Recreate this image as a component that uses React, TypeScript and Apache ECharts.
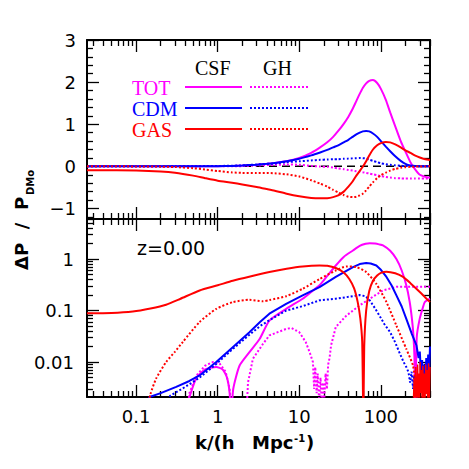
import React, { useEffect, useRef } from "react";
import * as echarts from "echarts";

// ---------- data ----------
// Top panel: Delta P / P_DMo (linear), shared k grid
const kTop = [0.025, 0.05, 0.1, 0.2, 0.3, 0.5, 0.7, 1, 1.5, 2, 3, 4, 5, 7, 10, 14, 18, 22, 26, 30, 35, 40, 45, 50, 55, 60, 66, 72, 80, 90, 100, 115, 130, 150, 175, 200, 230, 260, 300, 350, 400];
const totCsfTop = [0, 0, 0, 0, 0, 0, 0.002, 0.005, 0.01, 0.02, 0.04, 0.06, 0.08, 0.12, 0.2, 0.32, 0.45, 0.57, 0.7, 0.84, 1.01, 1.18, 1.36, 1.55, 1.72, 1.86, 1.97, 2.03, 2.05, 1.98, 1.84, 1.58, 1.28, 0.95, 0.6, 0.35, 0.1, -0.06, -0.2, -0.25, -0.27];
const cdmCsfTop = [0, 0, 0, 0, 0, 0, 0.002, 0.005, 0.01, 0.02, 0.04, 0.06, 0.08, 0.12, 0.18, 0.26, 0.33, 0.39, 0.45, 0.5, 0.57, 0.63, 0.7, 0.76, 0.8, 0.83, 0.84, 0.83, 0.78, 0.7, 0.6, 0.47, 0.36, 0.24, 0.13, 0.06, 0.02, 0.01, 0, 0, 0];
const gasCsfTop = [-0.09, -0.093, -0.097, -0.12, -0.15, -0.22, -0.28, -0.34, -0.39, -0.43, -0.49, -0.54, -0.58, -0.65, -0.71, -0.75, -0.76, -0.755, -0.73, -0.69, -0.6, -0.48, -0.36, -0.22, -0.11, -0.01, 0.12, 0.26, 0.4, 0.5, 0.55, 0.58, 0.57, 0.52, 0.45, 0.38, 0.32, 0.26, 0.21, 0.17, 0.15];
const totGhTop = [0, 0, 0, 0, 0, 0.003, 0.006, 0.008, 0.0, 0.005, 0.02, 0.03, 0.035, 0.045, 0.038, 0.012, -0.005, -0.012, -0.03, -0.05, -0.068, -0.085, -0.1, -0.115, -0.126, -0.14, -0.155, -0.17, -0.19, -0.21, -0.23, -0.25, -0.265, -0.28, -0.285, -0.29, -0.29, -0.29, -0.29, -0.29, -0.29];
const cdmGhTop = [0, 0, 0, 0.001, 0.002, 0.004, 0.006, 0.009, 0.015, 0.022, 0.045, 0.058, 0.07, 0.1, 0.12, 0.14, 0.155, 0.162, 0.168, 0.17, 0.18, 0.185, 0.19, 0.195, 0.2, 0.195, 0.185, 0.16, 0.13, 0.1, 0.075, 0.05, 0.038, 0.024, 0.013, 0.008, 0.004, 0.002, 0, 0, 0];
const gasGhTop = [0, 0, -0.001, -0.007, -0.016, -0.045, -0.075, -0.11, -0.145, -0.155, -0.16, -0.157, -0.165, -0.19, -0.24, -0.33, -0.41, -0.48, -0.56, -0.62, -0.68, -0.72, -0.73, -0.72, -0.69, -0.65, -0.57, -0.48, -0.38, -0.28, -0.21, -0.15, -0.1, -0.06, -0.033, -0.019, -0.011, -0.007, -0.003, -0.001, 0];

// Bottom panel: |Delta P / P_DMo| (log)
const totCsfBotK = [0.4, 0.45, 0.55, 0.7, 0.96, 1.15, 1.3, 1.4, 1.46, 1.55, 1.85, 2.45, 3.26, 4.3, 6.9, 11, 14, 17.7, 22, 28, 35, 45.5, 55, 65, 73, 85, 95, 106, 130, 155, 180, 205, 225, 240, 250, 258, 264, 275, 299, 330, 345, 400];
const totCsfBotV = [0.0012, 0.0021, 0.005, 0.0072, 0.008, 0.0072, 0.005, 0.0025, 0.0008, 0.003, 0.0085, 0.0156, 0.028, 0.064, 0.108, 0.17, 0.23, 0.31, 0.47, 0.75, 1.1, 1.47, 1.8, 1.98, 2.04, 2.0, 1.93, 1.84, 1.45, 1.0, 0.6, 0.31, 0.15, 0.07, 0.035, 0.012, 0.0008, 0.03, 0.069, 0.12, 0.146, 0.17];
const cdmCsfBotK = [0.13, 0.146, 0.2, 0.31, 0.45, 0.6, 0.96, 1.53, 2.45, 3.3, 4.3, 6.9, 11, 17.7, 28, 45.5, 55, 66, 75, 88, 100, 117, 135, 155, 180, 205, 240, 273, 290, 300, 310, 320, 330, 340, 350, 360, 370, 380, 390, 400];
const cdmCsfBotV = [0.0015, 0.0021, 0.0025, 0.0033, 0.0043, 0.0055, 0.01, 0.0195, 0.038, 0.06, 0.087, 0.135, 0.197, 0.286, 0.45, 0.7, 0.8, 0.84, 0.82, 0.75, 0.62, 0.45, 0.31, 0.197, 0.12, 0.069, 0.035, 0.021, 0.012, 0.016, 0.006, 0.011, 0.0035, 0.009, 0.0028, 0.012, 0.005, 0.014, 0.006, 0.02];
const gasCsfBotK = [0.025, 0.05, 0.091, 0.15, 0.233, 0.35, 0.6, 1, 1.53, 2.5, 4.3, 7, 11, 17.7, 22, 28, 35, 41, 47, 52, 56, 59, 61, 62.5, 66, 72, 80, 90, 100, 117, 150, 187, 230, 300, 350, 400];
const gasCsfBotV = [0.089, 0.09, 0.096, 0.11, 0.13, 0.17, 0.246, 0.31, 0.38, 0.46, 0.56, 0.65, 0.72, 0.75, 0.74, 0.67, 0.55, 0.41, 0.27, 0.146, 0.07, 0.025, 0.0008, 0.02, 0.1, 0.24, 0.38, 0.48, 0.54, 0.57, 0.53, 0.45, 0.34, 0.23, 0.18, 0.146];
const gasNoiseK = [250, 256, 262, 267, 272, 277, 282, 287, 292, 297, 303, 309, 315, 321, 327, 333, 340, 347, 354, 361, 368, 376, 384, 392, 400];
const gasNoiseV = [0.0015, 0.005, 0.0018, 0.008, 0.0022, 0.0012, 0.009, 0.002, 0.006, 0.0014, 0.01, 0.0025, 0.007, 0.0013, 0.0085, 0.002, 0.006, 0.0015, 0.009, 0.0024, 0.007, 0.0014, 0.0095, 0.0018, 0.008];
const totGhBotK = [0.42, 0.45, 0.55, 0.7, 0.87, 1.05, 1.25, 1.4, 1.53, 2.24, 2.35, 2.7, 3.6, 4.3, 6.9, 8, 10, 12, 13.5, 14.7, 15.2, 15.7, 16.3, 16.8, 17.5, 18.2, 18.9, 19.5, 20.2, 21, 21.8, 22.6, 23.5, 24.5, 28, 37.8, 55, 73, 106, 155, 250, 400];
const totGhBotV = [0.0012, 0.0025, 0.0055, 0.0085, 0.01, 0.0095, 0.0065, 0.003, 0.0008, 0.0008, 0.004, 0.0116, 0.0227, 0.033, 0.044, 0.046, 0.038, 0.0245, 0.015, 0.01, 0.003, 0.008, 0.0025, 0.006, 0.0018, 0.005, 0.0015, 0.004, 0.0018, 0.006, 0.003, 0.009, 0.012, 0.021, 0.048, 0.08, 0.126, 0.17, 0.246, 0.29, 0.29, 0.29];
const cdmGhBotK = [0.24, 0.26, 0.31, 0.45, 0.6, 0.96, 1.53, 2.45, 3.3, 4.3, 6.9, 11, 17.7, 28, 45.5, 55, 65, 73, 85, 96, 110, 130, 150, 168, 190, 205, 218, 228, 238, 248, 256, 264, 272, 280];
const cdmGhBotV = [0.0015, 0.0022, 0.0026, 0.0037, 0.005, 0.0092, 0.018, 0.034, 0.05, 0.065, 0.1, 0.122, 0.158, 0.17, 0.19, 0.2, 0.19, 0.158, 0.11, 0.08, 0.055, 0.038, 0.024, 0.0156, 0.01, 0.008, 0.0064, 0.004, 0.0065, 0.003, 0.0055, 0.0022, 0.004, 0.0012];
const gasGhBotK = [0.135, 0.15, 0.176, 0.233, 0.3, 0.373, 0.6, 0.96, 1.53, 2.45, 3.6, 4.3, 6.9, 11, 17.7, 28, 37.8, 50, 66, 88, 117, 155, 205, 248, 262, 272];
const gasGhBotV = [0.0012, 0.0024, 0.0048, 0.01, 0.016, 0.0245, 0.06, 0.108, 0.146, 0.162, 0.152, 0.16, 0.19, 0.265, 0.41, 0.6, 0.72, 0.7, 0.56, 0.33, 0.146, 0.051, 0.018, 0.0085, 0.004, 0.0015];

// tick labels
const xTickValues = [0.1, 1, 10, 100];
const xTickLabels = ["0.1", "1", "10", "100"];
const yTopTickValues = [-1, 0, 1, 2, 3];
const yTopTickLabels = ["\u22121", "0", "1", "2", "3"];
const yBotTickValues = [0.01, 0.1, 1];
const yBotTickLabels = ["0.01", "0.1", "1"];

// axis ranges
const K_MIN = 0.025, K_MAX = 400;
const TOP_MIN = -1.25, TOP_MAX = 3;
const BOT_MIN = 0.0021, BOT_MAX = 6.0;

const MAGENTA = "#ff00ff", BLUE = "#0000ff", RED = "#ff0000";

const lg = Math.log10;
const XMIN = lg(K_MIN), XMAX = lg(K_MAX);
const YBMIN = lg(BOT_MIN), YBMAX = lg(BOT_MAX);

function logTicks(lo: number, hi: number, major: boolean): number[] {
  const out: number[] = [];
  for (let d = Math.floor(lg(lo)) - 1; d <= Math.ceil(lg(hi)); d++) {
    for (let m = 1; m <= 9; m++) {
      if (major !== (m === 1)) continue;
      const v = m * Math.pow(10, d);
      if (v >= lo * 0.9999 && v <= hi * 1.0001) out.push(lg(v));
    }
  }
  return out;
}
function linTicks(major: boolean): number[] {
  const out: number[] = [];
  for (let i = -6; i <= 15; i++) {
    const v = i / 5;
    if (v < TOP_MIN || v > TOP_MAX) continue;
    if (major === (i % 5 === 0)) out.push(v);
  }
  return out;
}

const FONT = "DejaVu Sans";
const SERIF = "Liberation Serif";

function axis(grid: number, pos: string, min: number, max: number, ticks: number[], len: number, line: boolean, labels?: { values: number[]; texts: string[]; margin: number }) {
  return {
    type: "value",
    gridIndex: grid,
    position: pos,
    min,
    max,
    silent: true,
    axisLine: { show: line, onZero: false, lineStyle: { color: "#000", width: 2 } },
    axisTick: { show: true, inside: true, length: len, customValues: ticks, lineStyle: { color: "#000", width: 1.3 } },
    axisLabel: labels
      ? {
          show: true,
          customValues: labels.values,
          margin: labels.margin,
          color: "#000",
          fontFamily: FONT,
          fontSize: 18,
          formatter: (v: number) => {
            const i = labels.values.findIndex((u) => Math.abs(u - v) < 1e-6);
            return i >= 0 ? labels.texts[i] : "";
          },
        }
      : { show: false },
    splitLine: { show: false },
  };
}

function line(ks: number[], vs: number[], grid: number, color: string, dotted: boolean, logY: boolean, smooth: number | boolean = 0.2, width = 2) {
  return {
    type: "line",
    xAxisIndex: grid * 4,
    yAxisIndex: grid * 4,
    data: ks.map((k, i) => [lg(k), logY ? lg(vs[i]) : vs[i]]),
    showSymbol: false,
    symbol: "none",
    smooth,
    clip: true,
    silent: true,
    z: 3,
    lineStyle: { color, width, type: dotted ? [2, 2] : "solid", cap: "butt" },
  };
}

function buildOption() {
  const MAJ = 12, MIN = 6;
  const xMaj = logTicks(K_MIN, K_MAX, true);
  const xMin = logTicks(K_MIN, K_MAX, false);
  const ybMaj = logTicks(BOT_MIN, BOT_MAX, true);
  const ybMin = logTicks(BOT_MIN, BOT_MAX, false);
  const ytMaj = linTicks(true);
  const ytMin = linTicks(false);
  const xLab = { values: xTickValues.map(lg), texts: xTickLabels, margin: 10 };
  const ytLab = { values: yTopTickValues, texts: yTopTickLabels, margin: 11 };
  const ybLab = { values: yBotTickValues.map(lg), texts: yBotTickLabels, margin: 13 };

  const xAxis = [
    axis(0, "bottom", XMIN, XMAX, xMaj, MAJ, true),
    axis(0, "bottom", XMIN, XMAX, xMin, MIN, false),
    axis(0, "top", XMIN, XMAX, xMaj, MAJ, true),
    axis(0, "top", XMIN, XMAX, xMin, MIN, false),
    axis(1, "bottom", XMIN, XMAX, xMaj, MAJ, true, xLab),
    axis(1, "bottom", XMIN, XMAX, xMin, MIN, false),
    axis(1, "top", XMIN, XMAX, xMaj, MAJ, true),
    axis(1, "top", XMIN, XMAX, xMin, MIN, false),
  ];
  const yAxis = [
    axis(0, "left", TOP_MIN, TOP_MAX, ytMaj, MAJ, true, ytLab),
    axis(0, "left", TOP_MIN, TOP_MAX, ytMin, MIN, false),
    axis(0, "right", TOP_MIN, TOP_MAX, ytMaj, MAJ, true),
    axis(0, "right", TOP_MIN, TOP_MAX, ytMin, MIN, false),
    axis(1, "left", YBMIN, YBMAX, ybMaj, MAJ, true, ybLab),
    axis(1, "left", YBMIN, YBMAX, ybMin, MIN, false),
    axis(1, "right", YBMIN, YBMAX, ybMaj, MAJ, true),
    axis(1, "right", YBMIN, YBMAX, ybMin, MIN, false),
  ];

  const zeroLine = {
    type: "line",
    xAxisIndex: 0,
    yAxisIndex: 0,
    data: [[XMIN, 0], [XMAX, 0]],
    showSymbol: false,
    symbol: "none",
    silent: true,
    z: 1,
    lineStyle: { color: "#000", width: 1.5, type: [8, 5] },
  };

  const series = [
    zeroLine,
    line(kTop, totCsfTop, 0, MAGENTA, false, false),
    line(kTop, totGhTop, 0, MAGENTA, true, false),
    line(kTop, cdmCsfTop, 0, BLUE, false, false),
    line(kTop, cdmGhTop, 0, BLUE, true, false),
    line(kTop, gasCsfTop, 0, RED, false, false),
    line(kTop, gasGhTop, 0, RED, true, false),
    line(totCsfBotK, totCsfBotV, 1, MAGENTA, false, true),
    line(totGhBotK, totGhBotV, 1, MAGENTA, true, true, false),
    line(cdmCsfBotK, cdmCsfBotV, 1, BLUE, false, true, false),
    line(cdmGhBotK, cdmGhBotV, 1, BLUE, true, true, false),
    line(gasCsfBotK, gasCsfBotV, 1, RED, false, true),
    line(gasGhBotK, gasGhBotV, 1, RED, true, true),
    line(gasNoiseK, gasNoiseV, 1, RED, false, true, false, 1.5),
  ];

  const txt = (text: string, x: number, y: number, fill: string, size: number, family: string, weight = "normal", align = "left") => ({
    type: "text",
    x,
    y,
    silent: true,
    z: 100,
    style: { text, fill, fontSize: size, fontFamily: family, fontWeight: weight, align, verticalAlign: "middle" },
  });
  const seg = (x1: number, x2: number, y: number, stroke: string, dotted: boolean) => ({
    type: "line",
    silent: true,
    z: 100,
    shape: { x1, y1: y, x2, y2: y },
    style: { stroke, lineWidth: 2, lineDash: dotted ? [2, 2] : null },
  });

  const graphic = [
    txt("CSF", 195, 68, "#000", 20, SERIF),
    txt("GH", 263, 68, "#000", 20, SERIF),
    txt("TOT", 132, 88, MAGENTA, 20, SERIF),
    txt("CDM", 132, 109, BLUE, 20, SERIF),
    txt("GAS", 132, 130, RED, 20, SERIF),
    seg(185, 242, 87, MAGENTA, false),
    seg(250, 308, 87, MAGENTA, true),
    seg(185, 242, 108, BLUE, false),
    seg(250, 308, 108, BLUE, true),
    seg(185, 242, 129, RED, false),
    seg(250, 308, 129, RED, true),
    txt("z=0.00", 137, 248, "#000", 19, FONT),
    {
      type: "group",
      x: 21,
      y: 220,
      rotation: Math.PI / 2,
      silent: true,
      children: [
        txt("\u0394P", -50, 0, "#000", 18, FONT, "bold"),
        txt("/", -6, 0, "#000", 18, FONT, "bold", "center"),
        txt("P", 16.5, 0, "#000", 18, FONT, "bold", "center"),
        txt("DMo", 25, 9, "#000", 10, FONT, "bold"),
      ],
    },
    txt("k/(h", 195, 442, "#000", 18, FONT, "bold"),
    txt("Mpc", 252, 442, "#000", 18, FONT, "bold"),
    txt("-1", 294, 438, "#000", 10, FONT, "bold"),
    txt(")", 306, 442, "#000", 18, FONT, "bold"),
  ];

  return {
    animation: false,
    backgroundColor: "#fff",
    grid: [
      { left: 87, top: 40, width: 343, height: 179 },
      { left: 87, top: 219, width: 343, height: 178 },
    ],
    xAxis,
    yAxis,
    series,
    graphic,
  };
}

export default function App() {
  const ref = useRef<HTMLDivElement>(null);
  useEffect(() => {
    if (!ref.current) return;
    const chart = echarts.init(ref.current, undefined, { renderer: "svg" });
    chart.setOption(buildOption() as any);
    return () => chart.dispose();
  }, []);
  return <div ref={ref} style={{ position: "fixed", left: 0, top: 0, width: 469, height: 469, background: "#fff" }} />;
}
